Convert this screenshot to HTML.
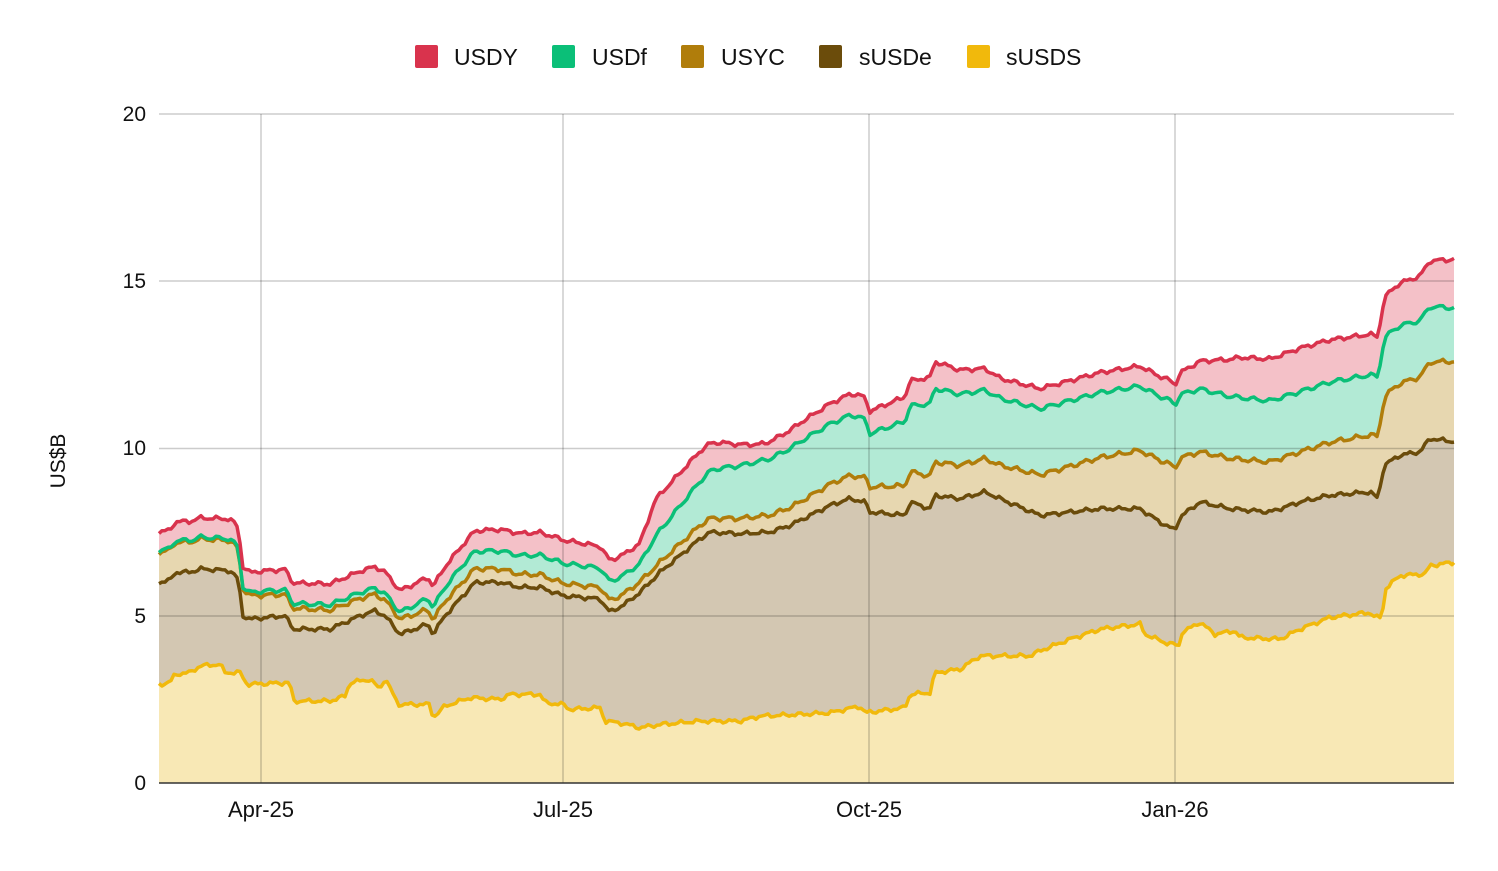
<!DOCTYPE html><html><head><meta charset="utf-8"><style>
body{margin:0;background:#fff;font-family:"Liberation Sans",Arial,sans-serif}
svg text{font-family:"Liberation Sans",Arial,sans-serif}
</style></head><body>
<svg id="s" width="1498" height="866" xmlns="http://www.w3.org/2000/svg">
<rect width="1498" height="866" fill="#fff"/>
<g id="fills"></g>
<g stroke="#000" stroke-opacity="0.2" stroke-width="1.5">
<line x1="159" x2="1454" y1="114" y2="114"/><line x1="159" x2="1454" y1="281" y2="281"/>
<line x1="159" x2="1454" y1="448.5" y2="448.5"/><line x1="159" x2="1454" y1="616" y2="616"/>
<line x1="261" x2="261" y1="114" y2="783"/><line x1="563" x2="563" y1="114" y2="783"/>
<line x1="869" x2="869" y1="114" y2="783"/><line x1="1175" x2="1175" y1="114" y2="783"/>
</g>
<g id="lines"></g>
<line x1="159" x2="1454" y1="783" y2="783" stroke="#333" stroke-width="1.5"/>
<g font-size="21" fill="#111" text-anchor="end">
<text x="146" y="121">20</text><text x="146" y="288">15</text><text x="146" y="455">10</text><text x="146" y="623">5</text><text x="146" y="790">0</text>
</g>
<g font-size="22" fill="#111" text-anchor="middle">
<text x="261" y="817">Apr-25</text><text x="563" y="817">Jul-25</text><text x="869" y="817">Oct-25</text><text x="1175" y="817">Jan-26</text>
</g>
<text x="0" y="0" font-size="21" fill="#111" text-anchor="middle" transform="translate(65,461) rotate(-90)">US$B</text>
<g font-size="23" fill="#111">
<rect x="415" y="45" width="23" height="23" rx="2" fill="#d9334d"/><text x="454" y="65">USDY</text>
<rect x="552" y="45" width="23" height="23" rx="2" fill="#0bbf78"/><text x="592" y="65">USDf</text>
<rect x="681" y="45" width="23" height="23" rx="2" fill="#b07d0b"/><text x="721" y="65">USYC</text>
<rect x="819" y="45" width="23" height="23" rx="2" fill="#6b4c0b"/><text x="859" y="65">sUSDe</text>
<rect x="967" y="45" width="23" height="23" rx="2" fill="#f1b90c"/><text x="1006" y="65">sUSDS</text>
</g>
</svg>
<script>
function interp(pts,x){for(let i=0;i<pts.length-1;i++){if(x<=pts[i+1][0]){const a=pts[i],b=pts[i+1];const t=(x-a[0])/((b[0]-a[0])||1);return a[1]+(b[1]-a[1])*t;}}return pts[pts.length-1][1];}
const S=[[159,2.95],[170,3.0],[175,3.25],[190,3.3],[200,3.5],[220,3.55],[225,3.3],[240,3.3],[247,2.95],[290,3.0],[293,2.45],[330,2.45],[345,2.6],[350,3.0],[370,3.1],[380,2.8],[385,3.15],[398,2.35],[430,2.35],[433,1.95],[445,2.3],[460,2.45],[470,2.55],[500,2.5],[510,2.65],[540,2.65],[545,2.4],[563,2.35],[570,2.2],[600,2.25],[605,1.85],[620,1.8],[640,1.65],[660,1.75],[700,1.85],[740,1.85],[760,2.0],[800,2.05],[830,2.1],[860,2.3],[865,2.1],[905,2.25],[910,2.65],[930,2.7],[935,3.3],[960,3.4],[980,3.8],[1030,3.8],[1040,3.95],[1070,4.3],[1100,4.6],[1140,4.75],[1145,4.45],[1165,4.2],[1180,4.1],[1182,4.5],[1200,4.8],[1215,4.45],[1235,4.55],[1240,4.35],[1280,4.3],[1300,4.6],[1330,4.95],[1370,5.1],[1375,4.95],[1382,4.95],[1385,5.8],[1400,6.2],[1425,6.25],[1430,6.5],[1454,6.6]];
const E=[[159,6.0],[170,6.05],[175,6.3],[190,6.3],[200,6.4],[230,6.35],[238,6.1],[243,5.0],[250,4.9],[285,5.0],[293,4.6],[330,4.6],[345,4.8],[360,5.0],[375,5.15],[385,5.0],[400,4.45],[410,4.55],[428,4.75],[433,4.45],[445,5.0],[460,5.5],[475,6.0],[500,6.0],[520,5.85],[540,5.85],[563,5.6],[600,5.5],[610,5.1],[625,5.35],[640,5.7],[660,6.3],[680,6.8],[700,7.3],[710,7.5],[740,7.45],[770,7.5],[790,7.7],[810,8.0],[830,8.3],[850,8.5],[865,8.4],[870,8.1],[905,8.0],[910,8.4],[930,8.2],[935,8.6],[960,8.5],[985,8.7],[1000,8.5],[1040,8.0],[1070,8.1],[1100,8.2],[1140,8.2],[1160,7.8],[1175,7.55],[1180,7.95],[1200,8.4],[1230,8.2],[1270,8.1],[1300,8.4],[1330,8.6],[1370,8.7],[1378,8.5],[1384,9.5],[1400,9.8],[1420,9.9],[1430,10.3],[1454,10.2]];
const dC=[[159,0.9],[238,0.9],[250,0.7],[400,0.45],[600,0.35],[660,0.3],[700,0.4],[800,0.55],[870,0.75],[935,1.0],[1000,1.0],[1170,1.9],[1200,1.5],[1300,1.5],[1370,1.7],[1390,2.1],[1454,2.4]];
const dF=[[159,0.05],[240,0.05],[260,0.12],[400,0.2],[460,0.5],[560,0.6],[640,0.55],[655,0.9],[720,1.5],[800,1.8],[860,1.8],[870,1.6],[935,2.2],[1000,2.0],[1175,1.9],[1300,1.8],[1370,1.8],[1454,1.6]];
const dY=[[159,0.55],[240,0.6],[260,0.6],[400,0.65],[460,0.6],[560,0.7],[640,0.6],[655,1.1],[700,0.9],[760,0.5],[860,0.65],[935,0.8],[1000,0.6],[1175,0.6],[1240,1.2],[1300,1.3],[1380,1.2],[1454,1.45]];
const Y=v=>783-v*33.45;
const xs=[];for(let x=159;x<=1454;x+=3)xs.push(x);if(xs[xs.length-1]!==1454)xs.push(1454);
function n(x,k){return Math.sin(x*0.37+k)*0.04+Math.sin(x*1.3+k*2)*0.03;}
const L=[[],[],[],[],[]];
xs.forEach(x=>{const s=interp(S,x)+n(x,1);const e=interp(E,x)+n(x,2);const c=e+interp(dC,x)+n(x,3)*0.5;const f=c+interp(dF,x)+n(x,4)*0.5;const y=f+interp(dY,x)+n(x,5)*0.5;[s,e,c,f,y].forEach((v,i)=>L[i].push([x,Y(v)]));});
const fills=["#f8e8b5","#d3c7b2","#e7d7b0","#b2ead5","#f4c1c8"],strokes=["#f1b90c","#6b4c0b","#b07d0b","#0bbf78","#d9334d"];
const pstr=a=>a.map(p=>p[0]+","+p[1].toFixed(1)).join(" ");
let fh="",lh="";
for(let i=0;i<5;i++){const top=L[i];const bot=i===0?[[1454,783],[159,783]]:L[i-1].slice().reverse();fh+=`<polygon points="${pstr(top)} ${pstr(bot)}" fill="${fills[i]}"/>`;}
for(let i=0;i<5;i++){lh+=`<polyline points="${pstr(L[i])}" fill="none" stroke="${strokes[i]}" stroke-width="3.5" stroke-linejoin="round"/>`;}
document.getElementById("fills").innerHTML=fh;document.getElementById("lines").innerHTML=lh;
</script>
</body></html>
